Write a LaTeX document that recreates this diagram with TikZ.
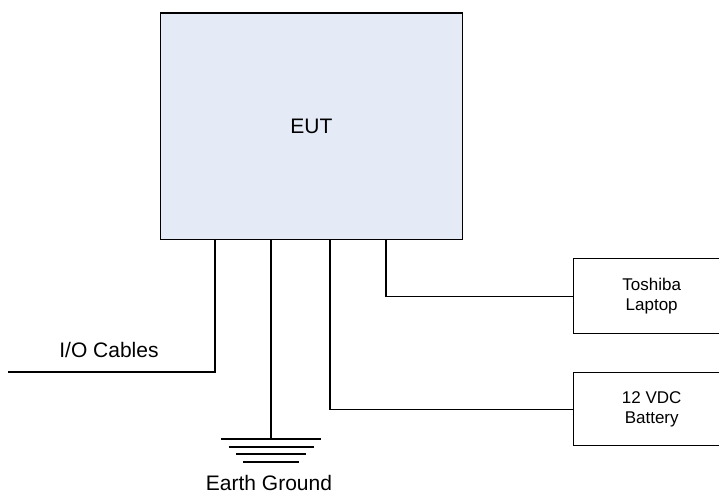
\documentclass[tikz,border=0pt]{standalone}
\usepackage{fontspec}
\setmainfont{Liberation Sans}
\usepackage{tikz}
\definecolor{eutblue}{RGB}{228,235,247}

\begin{document}
\begin{tikzpicture}[x=1pt, y=-1pt, line width=1.4pt,
		bigtext/.style={font=\fontsize{21}{25}\selectfont},
		smalltext/.style={font=\fontsize{17}{19.5}\selectfont, align=center}]
		\clip (0,0) rectangle (719,494);
		\node[draw, fill=eutblue, bigtext, anchor=north west, minimum width=301.5pt, minimum height=226.5pt, inner sep=0pt] (eut) at (160,12.5) {EUT};
		\node[draw, smalltext, anchor=north west, minimum width=156pt, minimum height=75pt] (laptop) at (573,258) {Toshiba\\Laptop};
		\node[draw, smalltext, anchor=north west, minimum width=156pt, minimum height=73pt] (battery) at (573,372) {12 VDC\\Battery};
		\coordinate (ioend) at (8,372);
		\coordinate (gnd) at (271,439);
		\draw (eut.south west) ++(55,0) |- (ioend);
		\draw (eut.south west) ++(111,0) -- (gnd);
		\draw (eut.south west) ++(170,0) |- (battery.west);
		\draw (eut.south west) ++(226,0) |- (laptop.west);
		\foreach \d/\w in {0/50, 8/42.5, 15/35, 23/28}
			\draw (gnd) ++(-\w,\d) -- ++(2*\w,0);
		\node[bigtext] (iolabel) at (109,350) {I/O Cables};
		\node[bigtext] (gndlabel) at (269,483) {Earth Ground};
	\end{tikzpicture}
\end{document}
